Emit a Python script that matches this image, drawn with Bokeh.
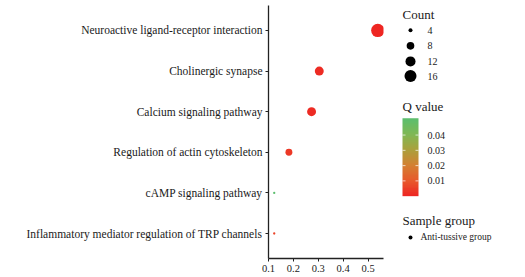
import numpy as np
from bokeh.plotting import figure
from bokeh.models import (ColumnDataSource, Range1d, FixedTicker, LinearColorMapper)
from bokeh.layouts import row
from bokeh.core.properties import value
from bokeh.embed import file_html
from bokeh.resources import INLINE

# ---- data ----
pathways = [
    "Neuroactive ligand-receptor interaction",
    "Cholinergic synapse",
    "Calcium signaling pathway",
    "Regulation of actin cytoskeleton",
    "cAMP signaling pathway",
    "Inflammatory mediator regulation of TRP channels",
]
rich_factor = [0.539, 0.304, 0.273, 0.182, 0.123, 0.123]
counts = [19, 10, 10, 7, 3, 3]
q_values = [0.0004, 0.0015, 0.0015, 0.004, 0.051, 0.006]
x_ticks = [0.1, 0.2, 0.3, 0.4, 0.5]
count_legend = [4, 8, 12, 16]
q_ticks = [0.01, 0.02, 0.03, 0.04]
q_low, q_high = 0.0, 0.051
group_name = "Anti-tussive group"

FONT = "Liberation Serif"

def dot_size(c):
    return float(np.sqrt(max(10.7 * (c - 4) + 16, 4.0)))

# palette red -> green
stops = [(0.0, (238, 36, 34)), (0.2, (232, 88, 44)), (0.4, (212, 128, 50)),
         (0.6, (172, 160, 60)), (0.8, (128, 184, 84)), (1.0, (92, 190, 110))]
palette = []
for k in range(256):
    t = k / 255
    for (t0, c0), (t1, c1) in zip(stops[:-1], stops[1:]):
        if t0 <= t <= t1:
            f = (t - t0) / (t1 - t0)
            rgb = [int(round(a + (b - a) * f)) for a, b in zip(c0, c1)]
            palette.append("#%02x%02x%02x" % tuple(rgb))
            break
mapper = LinearColorMapper(palette=palette, low=q_low, high=q_high)

n = len(pathways)
src = ColumnDataSource(dict(
    x=rich_factor,
    y=[n - 1 - i for i in range(n)],
    size=[dot_size(c) for c in counts],
    q=q_values,
))

p = figure(width=395, height=276, x_range=Range1d(0.1, 0.562),
           y_range=Range1d(-0.615, n - 1 + 0.615),
           output_backend="svg", toolbar_location=None,
           min_border_left=268, min_border_right=12, min_border_top=5,
           min_border_bottom=18)
p.scatter(x="x", y="y", size="size", source=src,
          fill_color={"field": "q", "transform": mapper}, line_color=None)
p.outline_line_color = None
p.xgrid.visible = False
p.ygrid.visible = False
p.background_fill_color = "white"
p.border_fill_color = "white"

p.yaxis.ticker = FixedTicker(ticks=list(range(n)))
p.yaxis.major_label_overrides = {n - 1 - i: name for i, name in enumerate(pathways)}
p.xaxis.ticker = FixedTicker(ticks=x_ticks)
for ax in (p.xaxis[0], p.yaxis[0]):
    ax.axis_line_color = "#222222"
    ax.axis_line_width = 1.3
    ax.major_tick_line_color = "#222222"
    ax.major_tick_line_width = 1
    ax.major_tick_out = 3
    ax.major_tick_in = 0
    ax.minor_tick_line_color = None
    ax.major_label_text_font = FONT
    ax.major_label_text_color = "#1a1a1a"
    ax.major_label_standoff = 3
p.yaxis.major_label_text_font_size = "11.5px"
p.xaxis.major_label_text_font_size = "10.5px"

# ---- legend panel ----
LW, LH = 130, 276
lg = figure(width=LW, height=LH, x_range=Range1d(0, LW), y_range=Range1d(LH, 0),
            output_backend="svg", toolbar_location=None,
            min_border=0)
lg.axis.visible = False
lg.grid.visible = False
lg.outline_line_color = None

def T(x, y, s, size):
    lg.text(x=[x], y=[y], text=[s], text_font=value(FONT),
            text_font_size=size, text_color="#1a1a1a",
            text_baseline="middle", text_align="left")

# Count legend
T(7, 10, "Count", "13px")
cy = [27, 44, 61, 77]
lg.scatter(x=[15] * len(count_legend), y=cy,
           size=[dot_size(c) for c in count_legend],
           fill_color="black", line_color=None)
for c, y in zip(count_legend, cy):
    T(32, y, str(c), "10px")

# Q value color bar
T(7, 110, "Q value", "13px")
bar_top, bar_bot = 123, 208
grad = np.linspace(q_high, q_low, 120).reshape(-1, 1)
lg.image(image=[grad], x=7, y=bar_top, dw=16, dh=bar_bot - bar_top,
         color_mapper=mapper)
for qt in q_ticks:
    yy = bar_bot - (qt - q_low) / (q_high - q_low) * (bar_bot - bar_top)
    lg.segment(x0=[7, 20], y0=[yy, yy], x1=[10, 23], y1=[yy, yy],
               line_color="white", line_alpha=0.7, line_width=1)
    T(32, yy, "%.2f" % qt, "10px")

# Sample group
T(7, 235, "Sample group", "13px")
lg.scatter(x=[15], y=[253], size=4, fill_color="black", line_color=None)
T(25, 253, group_name, "9.5px")

layout = row(p, lg)
open("out.html", "w").write(file_html(layout, INLINE))
